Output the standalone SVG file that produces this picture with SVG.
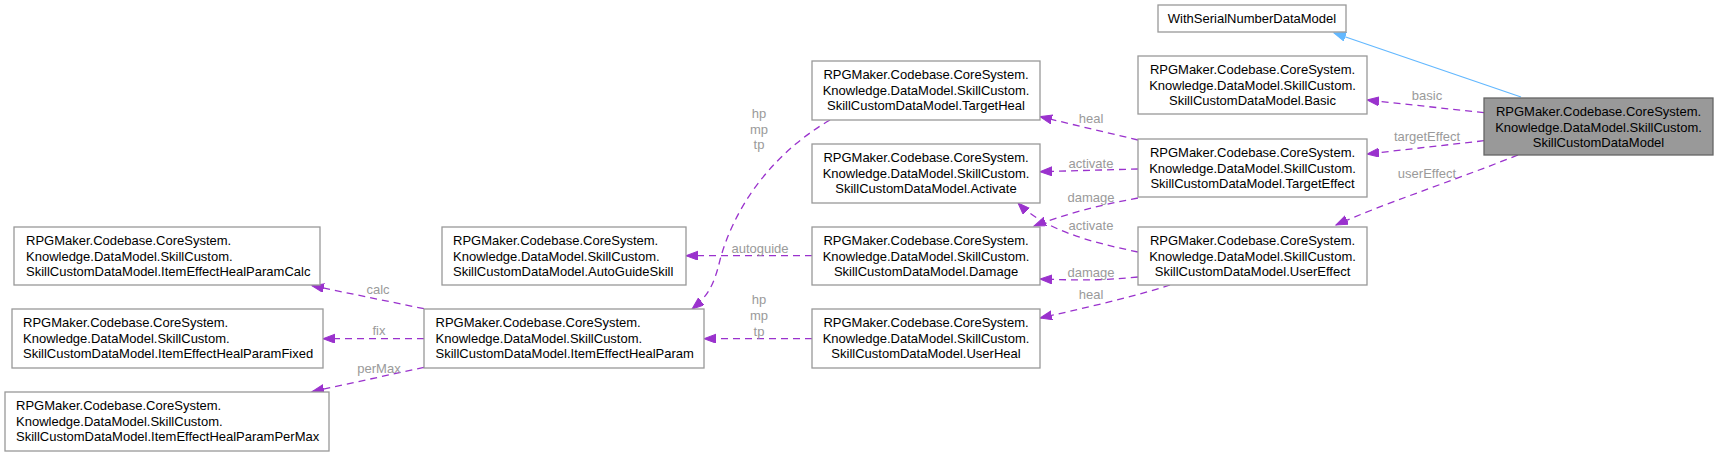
<svg xmlns="http://www.w3.org/2000/svg" width="1718" height="456" viewBox="0 0 1718 456">
<style>
.box{fill:#ffffff;stroke:#999999;stroke-width:1.3}
.main{fill:#999999;stroke:#666666;stroke-width:1.3}
.t{font-family:"Liberation Sans",Arial,sans-serif;font-size:13px;fill:#000000}
.c{text-anchor:middle}
.lbl{font-family:"Liberation Sans",Arial,sans-serif;font-size:13px;fill:#9a9a9a;text-anchor:middle}
.e{fill:none;stroke:#9a32cd;stroke-width:1.3;stroke-dasharray:7,5}
.inh{fill:none;stroke:#63b8ff;stroke-width:1.3}
</style>
<defs>
<marker id="ap" markerUnits="userSpaceOnUse" markerWidth="14" markerHeight="10" refX="12" refY="4.5" orient="auto">
<path d="M0,0 L12,4.5 L0,9 z" fill="#9a32cd" stroke="#9a32cd" stroke-width="1"/>
</marker>
<marker id="ab" markerUnits="userSpaceOnUse" markerWidth="14" markerHeight="10" refX="12" refY="4.5" orient="auto">
<path d="M0,0 L12,4.5 L0,9 z" fill="#63b8ff" stroke="#63b8ff" stroke-width="1"/>
</marker>
</defs>
<rect width="1718" height="456" fill="#ffffff"/>
<g id="connectors">
<path class="inh" d="M1521,97 L1334,33" marker-end="url(#ab)"/>
<path class="e" d="M1484,112.7 L1367,100" marker-end="url(#ap)"/>
<path class="e" d="M1484,140.7 L1367,154" marker-end="url(#ap)"/>
<path class="e" d="M1518,155 C1450,182 1380,205 1336,225" marker-end="url(#ap)"/>
<path class="e" d="M1138,140 L1040,116.7" marker-end="url(#ap)"/>
<path class="e" d="M1138,169 L1040,171.7" marker-end="url(#ap)"/>
<path class="e" d="M1138,198 C1100,205 1065,214 1034,226" marker-end="url(#ap)"/>
<path class="e" d="M1138,252 C1090,242 1045,230 1018,203" marker-end="url(#ap)"/>
<path class="e" d="M1138,277 C1100,281 1070,280 1040,279" marker-end="url(#ap)"/>
<path class="e" d="M1170,285 C1130,298 1080,309 1040,318" marker-end="url(#ap)"/>
<path class="e" d="M812,255.7 L686,255.7" marker-end="url(#ap)"/>
<path class="e" d="M812,338.7 L704,338.7" marker-end="url(#ap)"/>
<path class="e" d="M830,120 C765,158 732,215 720,260 C714,285 708,296 692,309" marker-end="url(#ap)"/>
<path class="e" d="M424,308.7 L312,285.7" marker-end="url(#ap)"/>
<path class="e" d="M424,338.7 L323,338.7" marker-end="url(#ap)"/>
<path class="e" d="M424,367.3 L312,391.7" marker-end="url(#ap)"/>
<text class="lbl" x="1427" y="99.5">basic</text>
<text class="lbl" x="1427" y="141">targetEffect</text>
<text class="lbl" x="1427" y="177.5">userEffect</text>
<text class="lbl" x="1091" y="122.5">heal</text>
<text class="lbl" x="1091" y="167.5">activate</text>
<text class="lbl" x="1091" y="202">damage</text>
<text class="lbl" x="1091" y="230">activate</text>
<text class="lbl" x="1091" y="277">damage</text>
<text class="lbl" x="1091" y="298.5">heal</text>
<text class="lbl" x="759" y="117.5">hp</text>
<text class="lbl" x="759" y="133.5">mp</text>
<text class="lbl" x="759" y="149">tp</text>
<text class="lbl" x="760" y="252.5">autoguide</text>
<text class="lbl" x="759" y="303.5">hp</text>
<text class="lbl" x="759" y="319.5">mp</text>
<text class="lbl" x="759" y="335.5">tp</text>
<text class="lbl" x="378" y="293.5">calc</text>
<text class="lbl" x="379" y="335">fix</text>
<text class="lbl" x="379" y="372.5">perMax</text>
</g>
<g id="node-main">
<rect class="main" x="1484" y="98" width="229" height="57"/>
<text class="t c" x="1598.5" y="116">RPGMaker.Codebase.CoreSystem.</text>
<text class="t c" x="1598.5" y="131.5">Knowledge.DataModel.SkillCustom.</text>
<text class="t c" x="1598.5" y="147">SkillCustomDataModel</text>
</g>
<g id="node-withserial">
<rect class="box" x="1158" y="5" width="188" height="27"/>
<text class="t c" x="1252" y="23">WithSerialNumberDataModel</text>
</g>
<g id="node-basic">
<rect class="box" x="1138" y="56" width="229" height="58"/>
<text class="t c" x="1252.5" y="74">RPGMaker.Codebase.CoreSystem.</text>
<text class="t c" x="1252.5" y="89.5">Knowledge.DataModel.SkillCustom.</text>
<text class="t c" x="1252.5" y="105">SkillCustomDataModel.Basic</text>
</g>
<g id="node-targeteffect">
<rect class="box" x="1138" y="139" width="229" height="58"/>
<text class="t c" x="1252.5" y="157">RPGMaker.Codebase.CoreSystem.</text>
<text class="t c" x="1252.5" y="172.5">Knowledge.DataModel.SkillCustom.</text>
<text class="t c" x="1252.5" y="188">SkillCustomDataModel.TargetEffect</text>
</g>
<g id="node-usereffect">
<rect class="box" x="1138" y="227" width="229" height="58"/>
<text class="t c" x="1252.5" y="245">RPGMaker.Codebase.CoreSystem.</text>
<text class="t c" x="1252.5" y="260.5">Knowledge.DataModel.SkillCustom.</text>
<text class="t c" x="1252.5" y="276">SkillCustomDataModel.UserEffect</text>
</g>
<g id="node-targetheal">
<rect class="box" x="812" y="61" width="228" height="59"/>
<text class="t c" x="926" y="79">RPGMaker.Codebase.CoreSystem.</text>
<text class="t c" x="926" y="94.5">Knowledge.DataModel.SkillCustom.</text>
<text class="t c" x="926" y="110">SkillCustomDataModel.TargetHeal</text>
</g>
<g id="node-activate">
<rect class="box" x="812" y="144" width="228" height="59"/>
<text class="t c" x="926" y="162">RPGMaker.Codebase.CoreSystem.</text>
<text class="t c" x="926" y="177.5">Knowledge.DataModel.SkillCustom.</text>
<text class="t c" x="926" y="193">SkillCustomDataModel.Activate</text>
</g>
<g id="node-damage">
<rect class="box" x="812" y="227" width="228" height="58"/>
<text class="t c" x="926" y="245">RPGMaker.Codebase.CoreSystem.</text>
<text class="t c" x="926" y="260.5">Knowledge.DataModel.SkillCustom.</text>
<text class="t c" x="926" y="276">SkillCustomDataModel.Damage</text>
</g>
<g id="node-userheal">
<rect class="box" x="812" y="309" width="228" height="59"/>
<text class="t c" x="926" y="327">RPGMaker.Codebase.CoreSystem.</text>
<text class="t c" x="926" y="342.5">Knowledge.DataModel.SkillCustom.</text>
<text class="t c" x="926" y="358">SkillCustomDataModel.UserHeal</text>
</g>
<g id="node-autoguide">
<rect class="box" x="442" y="227" width="244" height="58"/>
<text class="t" x="453" y="245">RPGMaker.Codebase.CoreSystem.</text>
<text class="t" x="453" y="260.5">Knowledge.DataModel.SkillCustom.</text>
<text class="t" x="453" y="276">SkillCustomDataModel.AutoGuideSkill</text>
</g>
<g id="node-itemeffecthealparam">
<rect class="box" x="424" y="309" width="280" height="59"/>
<text class="t" x="435.5" y="327">RPGMaker.Codebase.CoreSystem.</text>
<text class="t" x="435.5" y="342.5">Knowledge.DataModel.SkillCustom.</text>
<text class="t" x="435.5" y="358">SkillCustomDataModel.ItemEffectHealParam</text>
</g>
<g id="node-calc">
<rect class="box" x="14" y="227" width="306" height="58"/>
<text class="t" x="26" y="245">RPGMaker.Codebase.CoreSystem.</text>
<text class="t" x="26" y="260.5">Knowledge.DataModel.SkillCustom.</text>
<text class="t" x="26" y="276">SkillCustomDataModel.ItemEffectHealParamCalc</text>
</g>
<g id="node-fixed">
<rect class="box" x="12" y="309" width="311" height="59"/>
<text class="t" x="23" y="327">RPGMaker.Codebase.CoreSystem.</text>
<text class="t" x="23" y="342.5">Knowledge.DataModel.SkillCustom.</text>
<text class="t" x="23" y="358">SkillCustomDataModel.ItemEffectHealParamFixed</text>
</g>
<g id="node-permax">
<rect class="box" x="5" y="392" width="324" height="59"/>
<text class="t" x="16" y="410">RPGMaker.Codebase.CoreSystem.</text>
<text class="t" x="16" y="425.5">Knowledge.DataModel.SkillCustom.</text>
<text class="t" x="16" y="441">SkillCustomDataModel.ItemEffectHealParamPerMax</text>
</g>
</svg>
